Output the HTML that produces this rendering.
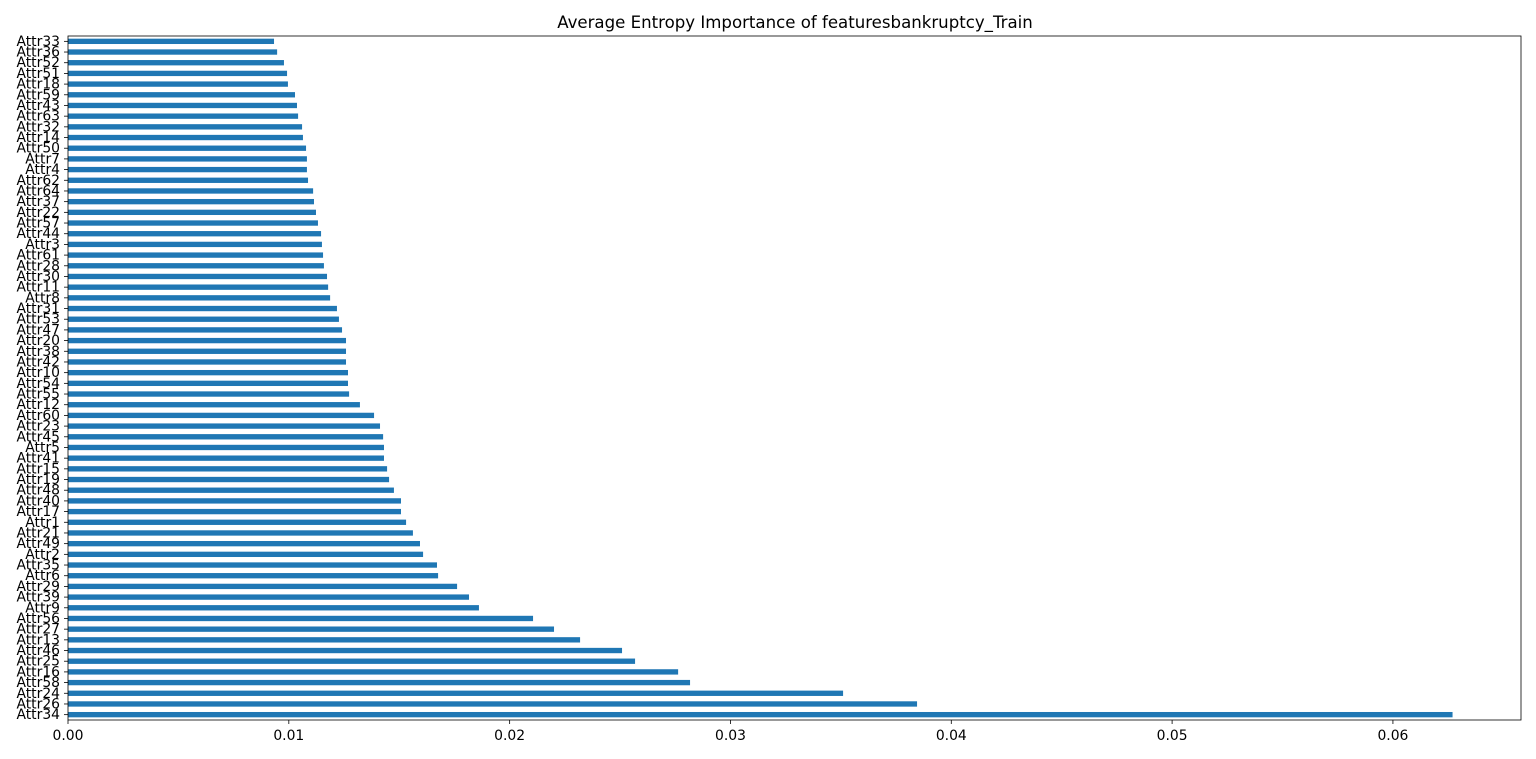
<!DOCTYPE html>
<html><head><meta charset="utf-8"><style>
html,body{margin:0;padding:0;background:#fff;}
svg{display:block;font-family:"DejaVu Sans","Liberation Sans",sans-serif;}
</style></head><body>
<svg id="chart" width="1536" height="759">
<text x="795" y="28" text-anchor="middle" font-size="16.6">Average Entropy Importance of featuresbankruptcy_Train</text>
</svg>
<script>
const categories=["Attr34","Attr26","Attr24","Attr58","Attr16","Attr25","Attr46","Attr13","Attr27","Attr56","Attr9","Attr39","Attr29","Attr6","Attr35","Attr2","Attr49","Attr21","Attr1","Attr17","Attr40","Attr48","Attr19","Attr15","Attr41","Attr5","Attr45","Attr23","Attr60","Attr12","Attr55","Attr54","Attr10","Attr42","Attr38","Attr20","Attr47","Attr53","Attr31","Attr8","Attr11","Attr30","Attr28","Attr61","Attr3","Attr44","Attr57","Attr22","Attr37","Attr64","Attr62","Attr4","Attr7","Attr50","Attr14","Attr32","Attr63","Attr43","Attr59","Attr18","Attr51","Attr52","Attr36","Attr33"];
const values=[0.0627,0.03845,0.0351,0.02817,0.02763,0.02568,0.02509,0.02319,0.02201,0.02106,0.01861,0.01816,0.01762,0.01676,0.01671,0.01608,0.01594,0.01562,0.01531,0.01508,0.01508,0.01476,0.01454,0.01445,0.01431,0.01431,0.01427,0.01413,0.01386,0.01322,0.01273,0.01268,0.01268,0.01259,0.01259,0.01259,0.01241,0.01227,0.01218,0.01187,0.01178,0.01173,0.01159,0.01155,0.0115,0.01146,0.01132,0.01123,0.01114,0.0111,0.01087,0.01082,0.01082,0.01078,0.01064,0.0106,0.01042,0.01037,0.01028,0.00996,0.00992,0.00978,0.00947,0.00933];
const xTicks=[0,0.01,0.02,0.03,0.04,0.05,0.06];
const xTickLabels=["0.00","0.01","0.02","0.03","0.04","0.05","0.06"];
const svg=document.getElementById('chart');
const NS='http://www.w3.org/2000/svg';
const L=68,R=1521,T=36,B=720,xMax=0.0658;
const n=categories.length;
const x=v=>L+v/xMax*(R-L);
const slot=(B-T)/n;
const y=i=>B-slot*(i+0.5);
function mk(tag,attrs){const e=document.createElementNS(NS,tag);for(const k in attrs)e.setAttribute(k,attrs[k]);svg.appendChild(e);return e;}
values.forEach((v,i)=>{
  const r=mk('rect',{x:L,y:y(i)-slot*0.25,width:x(v)-L,height:slot*0.5,fill:'#1f77b4'});
  
  
  const t=mk('text',{x:L-8,y:y(i)+4.5,'text-anchor':'end','font-size':'13.9'});
  t.textContent=categories[i];
  
  
  mk('line',{x1:L-4,x2:L,y1:y(i),y2:y(i),stroke:'#000','stroke-width':0.8});
});
xTicks.forEach((v,i)=>{
  mk('line',{x1:x(v),x2:x(v),y1:B,y2:B+4,stroke:'#000','stroke-width':0.8});
  const t=mk('text',{x:x(v),y:B+20,'text-anchor':'middle','font-size':'13.9'});
  t.textContent=xTickLabels[i];
  
  
});
const f=mk('rect',{x:L,y:T,width:R-L,height:B-T,fill:'none',stroke:'#000','stroke-width':0.8});


</script>
</body></html>
